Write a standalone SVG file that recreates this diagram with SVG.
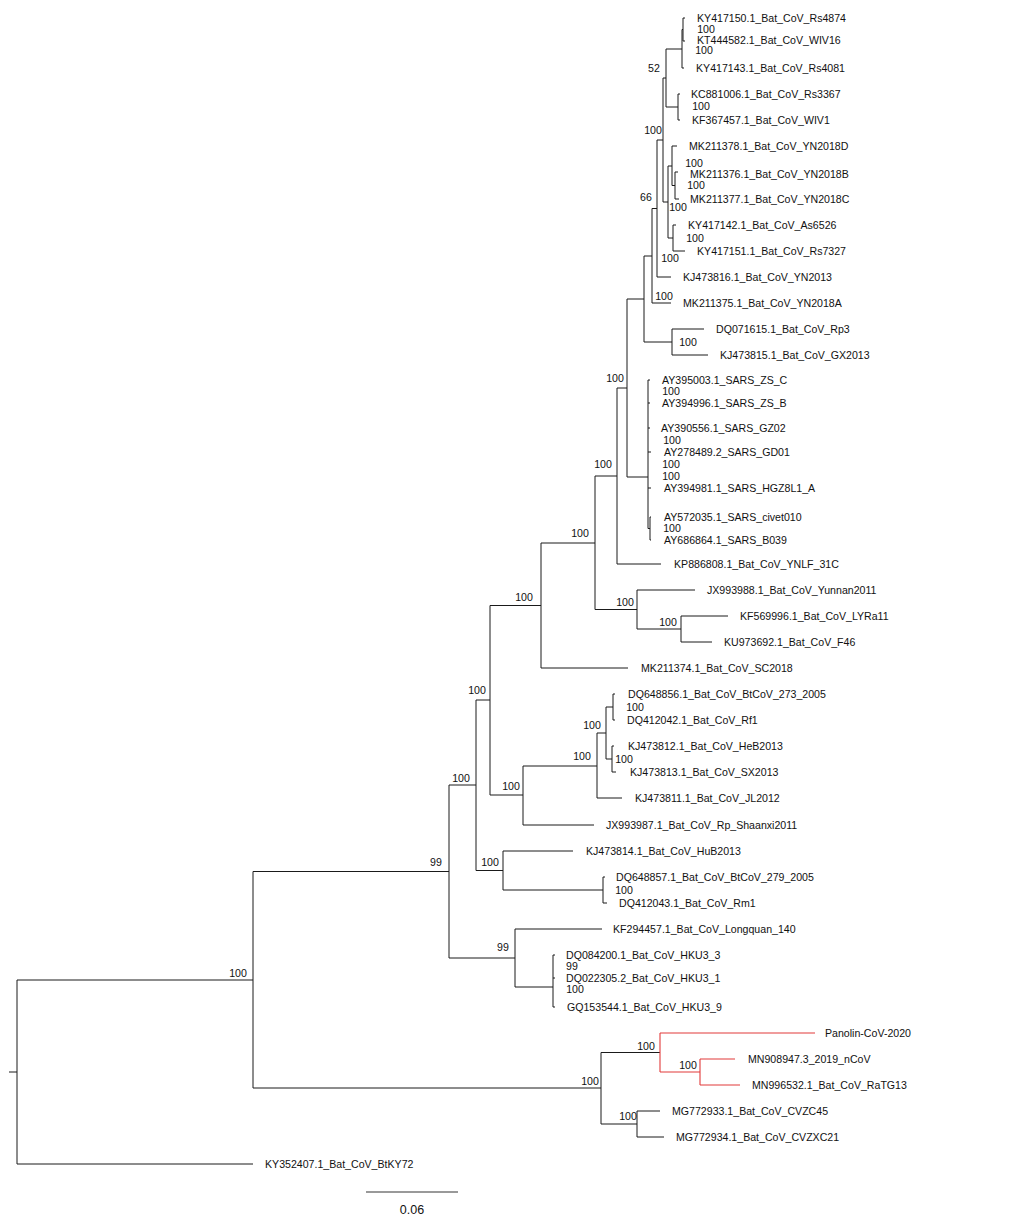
<svg xmlns="http://www.w3.org/2000/svg" width="1020" height="1227" viewBox="0 0 1020 1227">
<style>
.e{fill:none;stroke:#1a1a1a;stroke-width:1}
.r{fill:none;stroke:#e23b3b;stroke-width:1.1}
text{font-family:"Liberation Sans",Arial,sans-serif;font-size:10.6px;fill:#111}
.b{text-anchor:middle}
.sc{font-size:12.5px;text-anchor:middle}
</style>
<rect width="1020" height="1227" fill="#fff"/>
<g id="connectors">
<path class="e" d="M683,18V41M683,18H685M683,41H685
M682,29.5V68M682,29.5H683M682,68H684
M678,94V120M678,94H680M678,120H680
M666,49V107M666,49H682M666,107H678
M675,172V199M675,172H678M675,199H679
M672,146V185.5M672,146H677M672,185.5H675
M673,225V251M673,225H676M673,251H685
M668,166V238M668,166H672M668,238H673
M663,78V202M663,78H666M663,202H668
M657,140V277M657,140H663M657,277H671
M652,208.5V303M652,208.5H657M652,303H671
M672,329V355M672,329H704M672,355H708
M644,256V342M644,256H652M644,342H672
M648,380V528.5M648,380H650M648,403H650M648,428H650M648,452H651M648,488H651M648,528.5H650M650,517V540M650,517H651M650,540H651
M627,299V477M627,299H644M627,477H648
M617,388V564M617,388H627M617,564H661
M681,616V642M681,616H728M681,642H712
M637,590V629M637,590H695M637,629H681
M595,476V609.5M595,476H617M595,609.5H637
M541,543V668M541,543H595M541,668H628
M613,694V720M613,694H615M613,720H615
M612,746V772M612,746H614M612,772H616
M606,707V759M606,707H613M606,759H612
M597,733V798M597,733H606M597,798H622
M523,766V825M523,766H597M523,825H594
M490,605.5V795M490,605.5H541M490,795H523
M603,877V903M603,877H605M603,903H607
M503,851V890M503,851H573M503,890H603
M476,700V870.5M476,700H490M476,870.5H503
M553,955V1007M553,955H555M553,978H555M553,1007H555
M515,929V987M515,929H602M515,987H553
M449,785V958M449,785H476M449,958H515
M637,1111V1137M637,1111H660M637,1137H664
M601,1052.5V1124M601,1052.5H660M601,1124H637
M253,871.5V1088M253,871.5H449M253,1088H601
M17,980V1164M17,980H253M17,1164H253M9,1072H17"/>
<path class="r" d="M700,1059V1085M700,1059H735M700,1085H740M660,1033V1072M660,1033H815M660,1072H700"/>
</g>
<g id="leaves">
<g id="leaf1"><text x="697" y="22">KY417150.1_Bat_CoV_Rs4874</text></g>
<g id="leaf2"><text x="697" y="43.5">KT444582.1_Bat_CoV_WIV16</text></g>
<g id="leaf3"><text x="696" y="72">KY417143.1_Bat_CoV_Rs4081</text></g>
<g id="leaf4"><text x="691" y="98">KC881006.1_Bat_CoV_Rs3367</text></g>
<g id="leaf5"><text x="692" y="124">KF367457.1_Bat_CoV_WIV1</text></g>
<g id="leaf6"><text x="689" y="150">MK211378.1_Bat_CoV_YN2018D</text></g>
<g id="leaf7"><text x="690" y="178">MK211376.1_Bat_CoV_YN2018B</text></g>
<g id="leaf8"><text x="690" y="203">MK211377.1_Bat_CoV_YN2018C</text></g>
<g id="leaf9"><text x="688" y="229">KY417142.1_Bat_CoV_As6526</text></g>
<g id="leaf10"><text x="697" y="255">KY417151.1_Bat_CoV_Rs7327</text></g>
<g id="leaf11"><text x="683" y="281">KJ473816.1_Bat_CoV_YN2013</text></g>
<g id="leaf12"><text x="683" y="307">MK211375.1_Bat_CoV_YN2018A</text></g>
<g id="leaf13"><text x="716" y="333">DQ071615.1_Bat_CoV_Rp3</text></g>
<g id="leaf14"><text x="720" y="359">KJ473815.1_Bat_CoV_GX2013</text></g>
<g id="leaf15"><text x="662" y="384">AY395003.1_SARS_ZS_C</text></g>
<g id="leaf16"><text x="662" y="407">AY394996.1_SARS_ZS_B</text></g>
<g id="leaf17"><text x="661" y="432">AY390556.1_SARS_GZ02</text></g>
<g id="leaf18"><text x="664" y="456">AY278489.2_SARS_GD01</text></g>
<g id="leaf19"><text x="664" y="492">AY394981.1_SARS_HGZ8L1_A</text></g>
<g id="leaf20"><text x="664" y="521">AY572035.1_SARS_civet010</text></g>
<g id="leaf21"><text x="664" y="544">AY686864.1_SARS_B039</text></g>
<g id="leaf22"><text x="674" y="568">KP886808.1_Bat_CoV_YNLF_31C</text></g>
<g id="leaf23"><text x="707" y="594">JX993988.1_Bat_CoV_Yunnan2011</text></g>
<g id="leaf24"><text x="740" y="620">KF569996.1_Bat_CoV_LYRa11</text></g>
<g id="leaf25"><text x="724" y="646">KU973692.1_Bat_CoV_F46</text></g>
<g id="leaf26"><text x="641" y="672">MK211374.1_Bat_CoV_SC2018</text></g>
<g id="leaf27"><text x="628" y="698">DQ648856.1_Bat_CoV_BtCoV_273_2005</text></g>
<g id="leaf28"><text x="627" y="724">DQ412042.1_Bat_CoV_Rf1</text></g>
<g id="leaf29"><text x="628" y="750">KJ473812.1_Bat_CoV_HeB2013</text></g>
<g id="leaf30"><text x="630" y="776">KJ473813.1_Bat_CoV_SX2013</text></g>
<g id="leaf31"><text x="635" y="802">KJ473811.1_Bat_CoV_JL2012</text></g>
<g id="leaf32"><text x="606" y="829">JX993987.1_Bat_CoV_Rp_Shaanxi2011</text></g>
<g id="leaf33"><text x="586" y="855">KJ473814.1_Bat_CoV_HuB2013</text></g>
<g id="leaf34"><text x="616" y="881">DQ648857.1_Bat_CoV_BtCoV_279_2005</text></g>
<g id="leaf35"><text x="619" y="907">DQ412043.1_Bat_CoV_Rm1</text></g>
<g id="leaf36"><text x="613" y="933">KF294457.1_Bat_CoV_Longquan_140</text></g>
<g id="leaf37"><text x="566" y="959">DQ084200.1_Bat_CoV_HKU3_3</text></g>
<g id="leaf38"><text x="566" y="982">DQ022305.2_Bat_CoV_HKU3_1</text></g>
<g id="leaf39"><text x="567" y="1011">GQ153544.1_Bat_CoV_HKU3_9</text></g>
<g id="leaf40"><text x="825" y="1037">Panolin-CoV-2020</text></g>
<g id="leaf41"><text x="748" y="1063">MN908947.3_2019_nCoV</text></g>
<g id="leaf42"><text x="752" y="1089">MN996532.1_Bat_CoV_RaTG13</text></g>
<g id="leaf43"><text x="672" y="1115">MG772933.1_Bat_CoV_CVZC45</text></g>
<g id="leaf44"><text x="676" y="1141">MG772934.1_Bat_CoV_CVZXC21</text></g>
<g id="leaf45"><text x="265" y="1168">KY352407.1_Bat_CoV_BtKY72</text></g>
</g>
<g id="support">
<g id="n1"><text class="b" x="706" y="33">100</text></g>
<g id="n2"><text class="b" x="704" y="54">100</text></g>
<g id="n3"><text class="b" x="654" y="72">52</text></g>
<g id="n4"><text class="b" x="701" y="110">100</text></g>
<g id="n5"><text class="b" x="653" y="134">100</text></g>
<g id="n6"><text class="b" x="694" y="167">100</text></g>
<g id="n7"><text class="b" x="696" y="189">100</text></g>
<g id="n8"><text class="b" x="646" y="201">66</text></g>
<g id="n9"><text class="b" x="678" y="211">100</text></g>
<g id="n10"><text class="b" x="695" y="242">100</text></g>
<g id="n11"><text class="b" x="670" y="262">100</text></g>
<g id="n12"><text class="b" x="664" y="300">100</text></g>
<g id="n13"><text class="b" x="688" y="346">100</text></g>
<g id="n14"><text class="b" x="615" y="382">100</text></g>
<g id="n15"><text class="b" x="671" y="395">100</text></g>
<g id="n16"><text class="b" x="672" y="444">100</text></g>
<g id="n17"><text class="b" x="671" y="468">100</text></g>
<g id="n18"><text class="b" x="671" y="480">100</text></g>
<g id="n19"><text class="b" x="603" y="468">100</text></g>
<g id="n20"><text class="b" x="672" y="532">100</text></g>
<g id="n21"><text class="b" x="580" y="537">100</text></g>
<g id="n22"><text class="b" x="524" y="601">100</text></g>
<g id="n23"><text class="b" x="625" y="606">100</text></g>
<g id="n24"><text class="b" x="668" y="626">100</text></g>
<g id="n25"><text class="b" x="477" y="694">100</text></g>
<g id="n26"><text class="b" x="635" y="711">100</text></g>
<g id="n27"><text class="b" x="592" y="729">100</text></g>
<g id="n28"><text class="b" x="582" y="760">100</text></g>
<g id="n29"><text class="b" x="624" y="763">100</text></g>
<g id="n30"><text class="b" x="461" y="782">100</text></g>
<g id="n31"><text class="b" x="511" y="790">100</text></g>
<g id="n32"><text class="b" x="436" y="866">99</text></g>
<g id="n33"><text class="b" x="490" y="866">100</text></g>
<g id="n34"><text class="b" x="624" y="894">100</text></g>
<g id="n35"><text class="b" x="503" y="951">99</text></g>
<g id="n36"><text class="b" x="572" y="970">99</text></g>
<g id="n37"><text class="b" x="575" y="993">100</text></g>
<g id="n38"><text class="b" x="238" y="977">100</text></g>
<g id="n39"><text class="b" x="646" y="1050">100</text></g>
<g id="n40"><text class="b" x="688" y="1069">100</text></g>
<g id="n41"><text class="b" x="590" y="1085">100</text></g>
<g id="n42"><text class="b" x="628" y="1120">100</text></g>
</g>
<g id="scale">
<line x1="366" y1="1192" x2="458" y2="1192" stroke="#777" stroke-width="1.4"/>
<text class="sc" x="412" y="1214">0.06</text>
</g>
</svg>
